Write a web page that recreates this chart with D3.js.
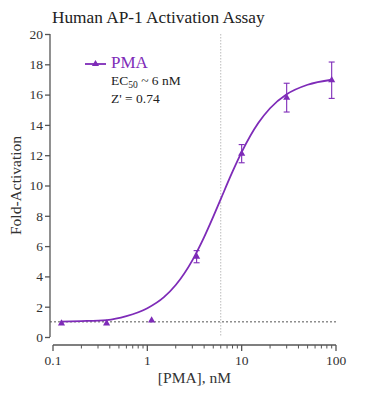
<!DOCTYPE html>
<html>
<head>
<meta charset="utf-8">
<script src="https://cdn.jsdelivr.net/npm/d3@7"></script>
<style>
  body { margin: 0; background: #fff; }
  svg { font-family: "Liberation Serif", "Times New Roman", serif; }
</style>
</head>
<body>
<svg width="372" height="393"></svg>
<script>
// Data: PMA dose response (3-fold dilutions)
const doses = [0.123, 0.37, 1.11, 3.33, 10, 30, 90];
const foldMeans = [0.9, 0.9, 1.1, 5.3, 12.1, 15.8, 16.95];
const foldErrs = [0.05, 0.05, 0.05, 0.4, 0.6, 0.95, 1.2];

// fitted curve
const curveX = [0.12, 0.2, 0.37, 0.6, 1, 1.5, 2, 3, 4, 5, 6, 8, 10, 15, 20, 30, 50, 90];
const curveY = [1.02, 1.05, 1.12, 1.38, 1.9, 2.63, 3.43, 5.06, 6.59, 7.94, 9.1, 10.91, 12.2, 14.12, 15.1, 16.02, 16.65, 16.98];

const ec50 = 6;
const baseline = 1;
const yTicks = [0, 2, 4, 6, 8, 10, 12, 14, 16, 18, 20];
const xTicks = [0.1, 1, 10, 100];

const purple = "#7e2bb8";
const axisColor = "#555";

const svg = d3.select("svg");

const x = d3.scaleLog().domain([0.1, 100]).range([53, 336]);
const y = d3.scaleLinear().domain([0, 20]).range([337, 34]);

// title
svg.append("text")
  .attr("x", 52).attr("y", 23)
  .style("font-size", "17.3px")
  .attr("fill", "#222")
  .text("Human AP-1 Activation Assay");

// y axis
const yAxis = svg.append("g")
  .attr("transform", "translate(50,0)")
  .call(d3.axisLeft(y).tickValues(yTicks).tickSize(5).tickPadding(2));
yAxis.selectAll("path,line").attr("stroke", axisColor).attr("stroke-width", 1.3);
yAxis.select(".domain").attr("d", `M0,${y(20)}V${y(0)}`);
yAxis.selectAll("text").style("font-size", "13.5px").style("font-family", "Liberation Serif").attr("fill", "#333");

// x axis, minor ticks
const minor = [];
for (let d = 0.1; d < 100; d *= 10) {
  for (let k = 2; k <= 9; k++) minor.push(+(d * k).toPrecision(3));
}
const xg = svg.append("g").attr("transform", "translate(0,345)");
xg.append("path")
  .attr("d", `M${x(0.1)},0H${x(100)}`)
  .attr("stroke", axisColor).attr("stroke-width", 1.3);
xg.selectAll(".minor").data(minor).join("line")
  .attr("x1", d => x(d)).attr("x2", d => x(d))
  .attr("y1", 0).attr("y2", 3.5)
  .attr("stroke", axisColor).attr("stroke-width", 1);
xg.selectAll(".major").data(xTicks).join("line")
  .attr("x1", d => x(d)).attr("x2", d => x(d))
  .attr("y1", 0).attr("y2", 6)
  .attr("stroke", axisColor).attr("stroke-width", 1.3);
xg.selectAll(".lbl").data(xTicks).join("text")
  .attr("x", d => x(d)).attr("y", 20)
  .attr("text-anchor", "middle")
  .style("font-size", "13.5px")
  .attr("fill", "#333")
  .text(d => d3.format("~g")(d));

// axis titles
svg.append("text")
  .attr("x", x(3.16)).attr("y", 383)
  .attr("text-anchor", "middle")
  .style("font-size", "15.5px")
  .attr("fill", "#333")
  .text("[PMA], nM");

svg.append("text")
  .attr("transform", `translate(21,${y(10)}) rotate(-90)`)
  .attr("text-anchor", "middle")
  .style("font-size", "15.5px")
  .attr("fill", "#333")
  .text("Fold-Activation");

// reference lines
svg.append("line")
  .attr("x1", x(ec50)).attr("x2", x(ec50))
  .attr("y1", y(20)).attr("y2", y(0))
  .attr("stroke", "#bbb").attr("stroke-width", 1)
  .attr("stroke-dasharray", "1.5,1.5");
svg.append("line")
  .attr("x1", 50).attr("x2", x(100))
  .attr("y1", y(baseline)).attr("y2", y(baseline))
  .attr("stroke", "#555").attr("stroke-width", 1)
  .attr("stroke-dasharray", "2,2");

// fitted curve
const line = d3.line()
  .x(d => x(d[0])).y(d => y(d[1]))
  .curve(d3.curveMonotoneX);
svg.append("path")
  .datum(curveX.map((c, i) => [c, curveY[i]]))
  .attr("d", line)
  .attr("fill", "none")
  .attr("stroke", purple)
  .attr("stroke-width", 1.8);

// error bars
const pts = doses.map((d, i) => ({ dose: d, mean: foldMeans[i], err: foldErrs[i] }));
const eb = svg.append("g").attr("stroke", purple).attr("stroke-width", 1.1);
pts.filter(p => p.err > 0.1).forEach(p => {
  const cx = x(p.dose);
  eb.append("line").attr("x1", cx).attr("x2", cx)
    .attr("y1", y(p.mean - p.err)).attr("y2", y(p.mean + p.err));
  eb.append("line").attr("x1", cx - 3).attr("x2", cx + 3)
    .attr("y1", y(p.mean - p.err)).attr("y2", y(p.mean - p.err));
  eb.append("line").attr("x1", cx - 3).attr("x2", cx + 3)
    .attr("y1", y(p.mean + p.err)).attr("y2", y(p.mean + p.err));
});

// markers
const tri = d3.symbol().type(d3.symbolTriangle).size(22);
svg.selectAll(".pt").data(pts).join("path")
  .attr("transform", p => `translate(${x(p.dose)},${y(p.mean)})`)
  .attr("d", tri)
  .attr("fill", purple);

// legend
const lg = svg.append("g").attr("transform", "translate(85,64)");
lg.append("line").attr("x1", 0).attr("x2", 21)
  .attr("stroke", purple).attr("stroke-width", 1.8);
lg.append("path").attr("transform", "translate(10.5,0)").attr("d", tri).attr("fill", purple);
lg.append("text").attr("x", 26).attr("y", 4)
  .style("font-size", "17px").attr("fill", purple).text("PMA");

const ec = lg.append("text").attr("x", 26).attr("y", 20.5)
  .style("font-size", "13.5px").attr("fill", "#222");
ec.append("tspan").text("EC");
ec.append("tspan").attr("dy", 3).style("font-size", "9.5px").text("50");
ec.append("tspan").attr("dy", -3).text(" ~ 6 nM");

lg.append("text").attr("x", 26).attr("y", 38.5)
  .style("font-size", "13.5px").attr("fill", "#222").text("Z' = 0.74");
</script>
</body>
</html>
